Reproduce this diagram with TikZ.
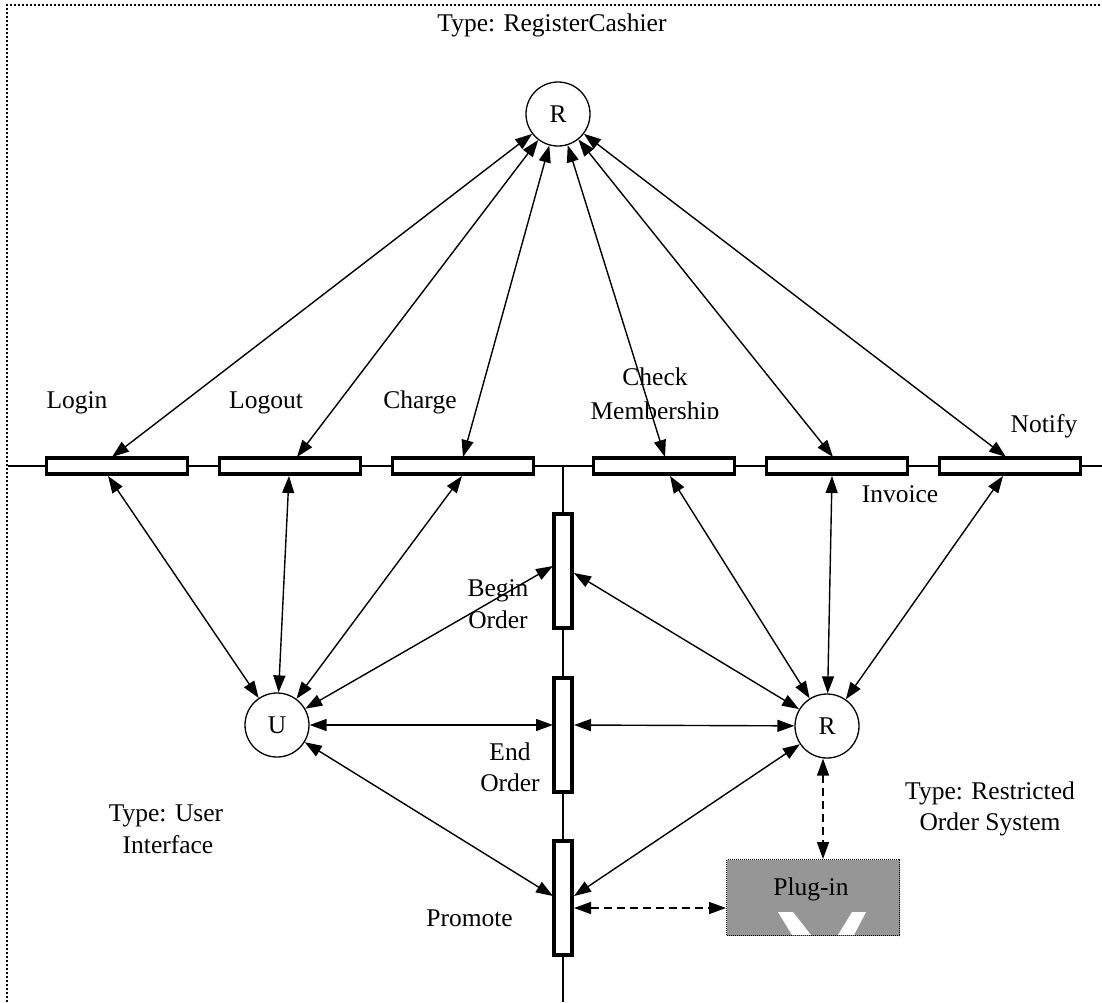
\documentclass[tikz,border=0pt]{standalone}
\usepackage{fontspec}
\setmainfont{Liberation Serif}
\usetikzlibrary{arrows.meta}
\definecolor{pluggray}{RGB}{150,150,150}
\begin{document}
\begin{tikzpicture}[x=1pt,y=-1pt,
  every node/.style={font=\fontsize{25.5}{30}\selectfont, inner sep=0pt},
  hbox/.style={draw, line width=3.3pt, fill=white, minimum width=141pt, minimum height=16pt},
  vbox/.style={draw, line width=3.3pt, fill=white, minimum width=18pt, minimum height=114pt},
  place/.style={draw, circle, line width=1.3pt, minimum size=64pt},
  rail/.style={line width=1.4pt},
  arc2/.style={<->, >={Triangle[length=17pt,width=12pt]}, line width=1.4pt},
  darc2/.style={arc2, dash pattern=on 8pt off 5pt},
  frame/.style={line width=2pt, dash pattern=on 2pt off 2pt},
  lbl/.style={anchor=base}
]
\useasboundingbox (0,0) rectangle (1102,1002);

% outer dotted frame
\coordinate (fBL) at (7,1002);
\coordinate (fTL) at (7,5);
\coordinate (fTR) at (1102,5);
\draw[frame] (fBL) -- (fTL) -- (fTR);

% rails
\coordinate (railW) at (8,466);
\coordinate (railE) at (1102,466);
\coordinate (railN) at (563,466);
\coordinate (railS) at (563,1002);
\draw[rail] (railW) -- (railE);
\draw[rail] (railN) -- (railS);

% transitions on the horizontal rail
\node[hbox] (login)   at (117,466) {};
\node[hbox] (logout)  at (290,466) {};
\node[hbox] (charge)  at (463,466) {};
\node[hbox] (checkm)  at (664,466) {};
\node[hbox] (invoice) at (837,466) {};
\node[hbox] (notify)  at (1010,466) {};

% transitions on the vertical rail
\node[vbox] (begin)   at (563,571) {};
\node[vbox] (endo)    at (563,735) {};
\node[vbox] (promote) at (563,898) {};

% places
\node[place] (Rtop) at (558,114) {R};
\node[place] (U)    at (277,725) {U};
\node[place] (Rord) at (827,726) {R};

% plug-in box
\node[draw, fill=pluggray, line width=1pt, dash pattern=on 1pt off 1pt,
      minimum width=173pt, minimum height=76pt] (plug) at (813,897.5) {};
\fill[white] (778,912) -- (793,912) -- (811,935) -- (792,935) -- cycle;
\fill[white] (852,912) -- (866,912) -- (854,935) -- (838,935) -- cycle;
\node[lbl] (plugtxt) at (811,895) {Plug-in};

% attachment points on the transitions
\coordinate (loginT)  at (112,457);
\coordinate (logoutT) at (297,457);
\coordinate (chargeT) at (463,457);
\coordinate (checkT)  at (665,457);
\coordinate (invT)    at (833,457);
\coordinate (notT)    at (1006,457);
\coordinate (loginB)  at (108,476);
\coordinate (logoutB) at (289,476);
\coordinate (chargeB) at (462,476);
\coordinate (checkB)  at (670,476);
\coordinate (invB)    at (832,476);
\coordinate (notB)    at (1003,476);
\coordinate (beginW)  at (553,566);
\coordinate (beginE)  at (574,573);
\coordinate (endW)    at (553,725);
\coordinate (endE)    at (574,725);
\coordinate (promW)   at (553,896);
\coordinate (promE)   at (574,896);
\coordinate (promD)   at (574,908);

% arcs to the cashier place
\draw[arc2] (Rtop) -- (loginT);
\draw[arc2] (Rtop) -- (logoutT);
\draw[arc2] (Rtop) -- (chargeT);
\draw[arc2] (Rtop) -- (checkT);
\draw[arc2] (Rtop) -- (invT);
\draw[arc2] (Rtop) -- (notT);

% arcs to the user interface place
\draw[arc2] (U) -- (loginB);
\draw[arc2] (U) -- (logoutB);
\draw[arc2] (U) -- (chargeB);
\draw[arc2] (U) -- (beginW);
\draw[arc2] (U) -- (endW);
\draw[arc2] (U) -- (promW);

% arcs to the order system place
\draw[arc2] (Rord) -- (checkB);
\draw[arc2] (Rord) -- (invB);
\draw[arc2] (Rord) -- (notB);
\draw[arc2] (Rord) -- (beginE);
\draw[arc2] (Rord) -- (endE);
\draw[arc2] (Rord) -- (promE);

% plug-in links
\coordinate (plugN) at (823,859);
\draw[darc2] (plugN |- Rord.south) -- (plugN);
\draw[darc2] (promD) -- (promD -| plug.west);

% labels
\node[lbl] (tCash)   at (552,31)  {Type: RegisterCashier};
\node[lbl] (lLogin)  at (77,408)  {Login};
\node[lbl] (lLogout) at (266,408) {Logout};
\node[lbl] (lCharge) at (420,408) {Charge};
\node[lbl] (lCheck)  at (655,385) {Check};
\begin{scope}
  \clip (580,390) rectangle (735,418.5);
  \node[lbl] (lMember) at (655,419) {Membership};
\end{scope}
\node[lbl] (lNotify) at (1044,432) {Notify};
\node[lbl] (lInv)    at (900,502) {Invoice};
\node[lbl] (lBegin)  at (498,596) {Begin};
\node[lbl] (lBeginO) at (498,628) {Order};
\node[lbl] (lEnd)    at (510,760) {End};
\node[lbl] (lEndO)   at (510,791) {Order};
\node[lbl, anchor=base east] (lProm) at (513,926) {Promote};
\node[lbl] (tUser)   at (166,821) {Type: User};
\node[lbl] (tUserI)  at (168,853) {Interface};
\node[lbl] (tOrd)    at (990,799) {Type: Restricted};
\node[lbl] (tOrdS)   at (990,830) {Order System};
\end{tikzpicture}
\end{document}
